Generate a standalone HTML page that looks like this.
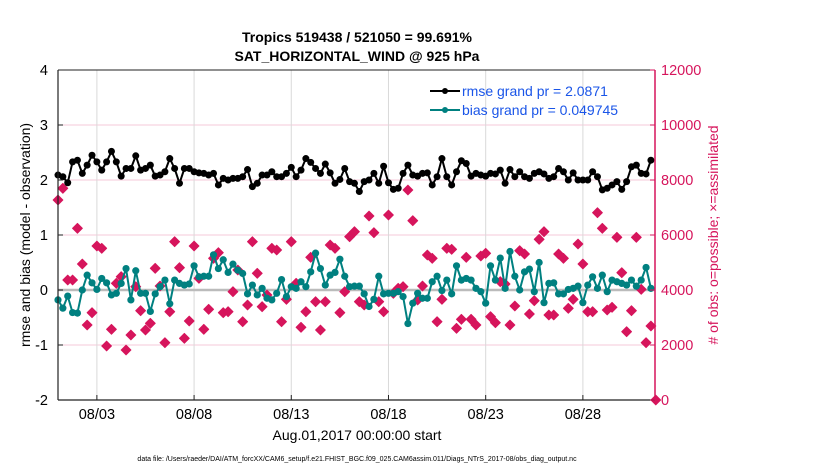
<!DOCTYPE html>
<html><head><meta charset="utf-8"><style>
body{margin:0;background:#fff;}
svg{display:block;font-family:"Liberation Sans",Arial,sans-serif;}
</style></head><body>
<svg id="chart" width="830" height="470" viewBox="0 0 830 470" xmlns="http://www.w3.org/2000/svg">
<rect width="830" height="470" fill="#fff"/>
<g id="grid"></g>
<g id="marks"></g>
<g id="axes"></g>
<text x="357" y="42" text-anchor="middle" font-size="14" font-weight="bold">Tropics 519438 / 521050 = 99.691%</text>
<text x="357" y="61" text-anchor="middle" font-size="14" font-weight="bold">SAT_HORIZONTAL_WIND @ 925 hPa</text>
<text x="0" y="0" transform="translate(30,235) rotate(-90)" text-anchor="middle" font-size="14">rmse and bias (model - observation)</text>
<text x="0" y="0" transform="translate(718,235) rotate(-90)" text-anchor="middle" font-size="14" fill="#d6155c"># of obs: o=possible; ×=assimilated</text>
<text x="357" y="440" text-anchor="middle" font-size="14">Aug.01,2017 00:00:00 start</text>
<text x="357" y="461" text-anchor="middle" font-size="7">data file: /Users/raeder/DAI/ATM_forcXX/CAM6_setup/f.e21.FHIST_BGC.f09_025.CAM6assim.011/Diags_NTrS_2017-08/obs_diag_output.nc</text>
<g>
<line x1="430" y1="91" x2="460" y2="91" stroke="#000" stroke-width="2"/>
<circle cx="445" cy="91" r="3" fill="#000"/>
<text x="462" y="96" font-size="14" fill="#1a55e8">rmse grand pr = 2.0871</text>
<line x1="430" y1="110" x2="460" y2="110" stroke="#008080" stroke-width="2"/>
<circle cx="445" cy="110" r="3" fill="#008080"/>
<text x="462" y="115" font-size="14" fill="#1a55e8">bias grand pr = 0.049745</text>
</g>
</svg>
<script>
const rmseValues=[2.09,2.06,1.95,2.33,2.36,2.12,2.27,2.45,2.33,2.18,2.33,2.52,2.33,2.07,2.21,2.21,2.44,2.18,2.21,2.27,2.07,2.09,2.15,2.39,2.21,1.94,2.21,2.21,2.15,2.13,2.12,2.09,2.12,1.91,2.03,2.0,2.03,2.03,2.06,2.19,1.88,1.94,2.09,
2.09,2.15,2.06,2.06,2.12,2.23,2.06,2.18,2.39,2.32,2.21,2.12,2.29,2.13,1.94,2.01,2.21,1.97,1.94,1.79,1.97,2.0,2.12,1.94,2.25,1.95,1.83,1.85,2.12,2.27,2.09,2.07,2.12,2.13,1.91,2.06,2.39,2.06,1.91,2.15,2.35,2.30,
2.07,2.12,2.09,2.07,2.12,2.11,2.18,1.94,2.19,2.06,2.15,2.06,2.03,2.12,2.15,2.11,2.03,2.06,2.21,2.15,2.0,2.13,2.0,2.0,2.0,2.15,2.06,1.82,1.85,1.91,1.97,1.83,1.97,2.24,2.27,2.12,2.11,2.36];
const biasValues=[-0.18,-0.33,-0.11,-0.41,-0.42,0,0.27,0.13,0.01,0.21,0.13,-0.09,-0.06,0.12,0.39,-0.18,0.35,-0.06,-0.06,-0.39,-0.07,0.06,0.18,-0.25,0.18,0.12,0.09,0.11,0.44,0.24,0.25,0.25,0.64,0.39,0.55,0.32,0.47,0.36,0.3,-0.07,0.09,-0.09,0.03,
-0.15,-0.18,-0.06,0.19,-0.12,0.06,0.03,0.15,0.06,0.33,0.67,0.39,0.09,0.27,0.32,0.56,0.25,0.06,0.07,0.07,-0.07,-0.30,-0.17,0.25,-0.07,-0.06,-0.06,-0.03,-0.12,-0.61,-0.24,-0.06,-0.15,-0.15,0.15,0.25,-0.01,0.18,-0.07,0.44,0.18,0.21,
0.18,0.03,-0.03,-0.24,0.44,0.18,0.58,0.03,0.70,0.25,0,0.33,0.38,-0.03,0.5,-0.23,0.12,0.13,-0.07,-0.07,0.01,0.03,0.07,-0.23,0.09,0.24,0.03,0.27,-0.03,0.18,0.15,0.12,0.09,0.18,0.07,0.18,0.41,0.03];
const obsCounts=[7273,7697,4364,4364,6242,4945,2727,3176,5600,5515,1964,2570,4242,4485,1818,2364,4121,3248,2545,2788,4788,4145,2085,3212,5758,4812,2242,2873,5600,4424,2570,3297,5152,5357,3176,3212,3939,4727,2848,3455,5758,4606,3394,
3818,5515,5455,2848,3661,5758,4242,2642,3212,5188,3576,2545,3576,5636,5515,3176,3939,5939,6121,3576,3455,6691,6085,3576,3212,6727,3879,4061,4121,7636,6521,3636,4145,5273,5152,2848,3661,5515,5479,2606,2933,5188,
2933,2727,5236,5333,3030,2812,4303,4218,2727,3418,5430,5309,3127,3612,5842,6121,3091,3091,5309,5152,3333,3661,5673,4945,3212,3212,6812,6242,3273,3370,5915,4630,2485,3248,5915,4024,2085,2691,0];
const leftTicks=[-2,-1,0,1,2,3,4];
const rightTicks=[0,2000,4000,6000,8000,10000,12000];
const xTickDays=[3,8,13,18,23,28];
const xTickLabels=["08/03","08/08","08/13","08/18","08/23","08/28"];

const NS="http://www.w3.org/2000/svg";
const X0=58,X1=655,Y0=400,Y1=70;
const pxPerDay=19.44;
const xDay=d=>X0+(d-1)*pxPerDay;
const xIdx=i=>xDay(1+i*0.25);
const yL=v=>Y0-(v+2)*(Y0-Y1)/6;
const yR=v=>Y0-v*(Y0-Y1)/12000;
function mk(tag,attrs,parent){const e=document.createElementNS(NS,tag);for(const k in attrs)e.setAttribute(k,attrs[k]);parent.appendChild(e);return e;}
const grid=document.getElementById('grid'),marks=document.getElementById('marks'),axes=document.getElementById('axes');

rightTicks.forEach((t,i)=>{if(t===0||t===12000)return;
 const l=mk('line',{x1:X0,x2:X1,y1:yR(t),y2:yR(t),stroke:'#f6c9da','stroke-width':1},grid);
 
 });
xTickDays.forEach(d=>{const l=mk('line',{x1:xDay(d),x2:xDay(d),y1:Y1,y2:Y0,stroke:'#d9d9d9','stroke-width':1},grid);
 
 });
const z=mk('line',{x1:X0,x2:X1,y1:yL(0),y2:yL(0),stroke:'#bbb','stroke-width':2.5},grid);



obsCounts.forEach((c,i)=>{const x=xIdx(i),y=yR(c),s=5;
 const p=mk('path',{d:`M${x} ${y-s}L${x+s} ${y}L${x} ${y+s}L${x-s} ${y}Z`,fill:'#d6155c','stroke':'#d6155c','stroke-width':0.8,'stroke-linejoin':'round'},marks);
 
 });
function series(vals,color,r,name){
 const pts=vals.map((v,i)=>xIdx(i).toFixed(1)+','+yL(v).toFixed(1)).join(' ');
 const pl=mk('polyline',{points:pts,fill:'none',stroke:color,'stroke-width':2,'stroke-linejoin':'round'},marks);
 
 
 vals.forEach((v,i)=>{const c=mk('circle',{cx:xIdx(i),cy:yL(v),r:r,fill:color},marks);
  
  });
}
series(biasValues,'#008080',3.6,'bias');
series(rmseValues,'#000',3.5,'rmse');

const la=mk('line',{x1:X0,x2:X0,y1:Y1,y2:Y0,stroke:'#222','stroke-width':1.2},axes);


const ba=mk('line',{x1:X0,x2:X1,y1:Y0,y2:Y0,stroke:'#222','stroke-width':1.2},axes);


const ta=mk('line',{x1:X0,x2:X1,y1:Y1,y2:Y1,stroke:'#222','stroke-width':1},axes);


const ra=mk('line',{x1:X1,x2:X1,y1:Y1,y2:Y0,stroke:'#d6155c','stroke-width':1.5},axes);


leftTicks.forEach(t=>{const y=yL(t);
 mk('line',{x1:X0,x2:X0+5,y1:y,y2:y,stroke:'#222'},axes);
 const tx=mk('text',{x:X0-10,y:y+5,'text-anchor':'end','font-size':14.5},axes);tx.textContent=t;
 
 });
rightTicks.forEach(t=>{const y=yR(t);
 mk('line',{x1:X1-5,x2:X1,y1:y,y2:y,stroke:'#d6155c'},axes);
 const tx=mk('text',{x:X1+6,y:y+5,'font-size':14.5,fill:'#d6155c'},axes);tx.textContent=t;
 
 });
xTickDays.forEach((d,i)=>{const x=xDay(d);
 mk('line',{x1:x,x2:x,y1:Y0,y2:Y0-5,stroke:'#222'},axes);
 const tx=mk('text',{x:x,y:Y0+19,'text-anchor':'middle','font-size':14.5},axes);tx.textContent=xTickLabels[i];
 
 });
</script>
</body></html>
